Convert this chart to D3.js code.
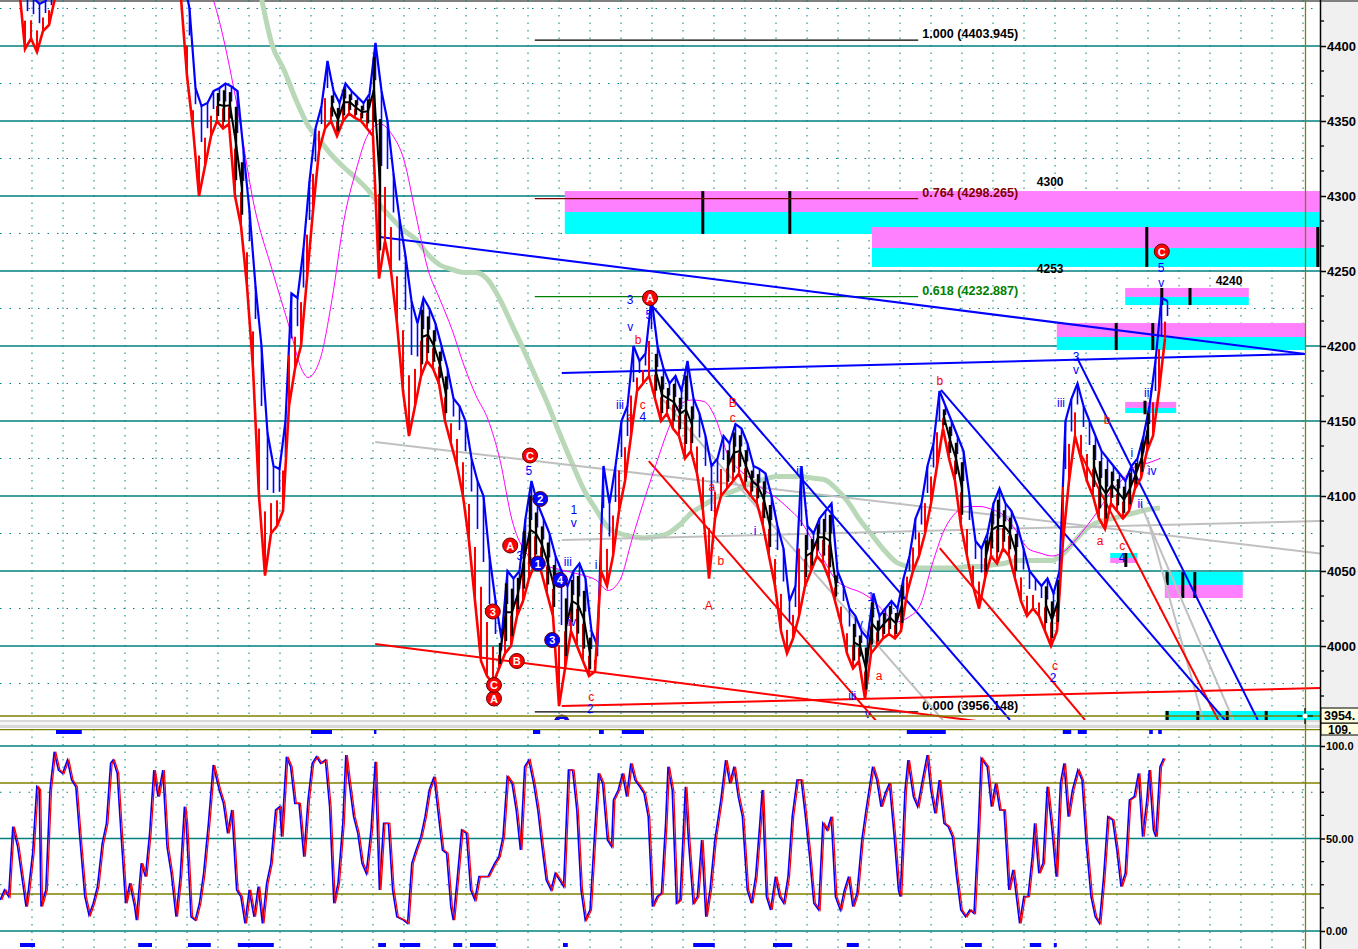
<!DOCTYPE html>
<html><head><meta charset="utf-8">
<script src="https://cdn.jsdelivr.net/npm/d3@7"></script>
<style>
html,body{margin:0;padding:0;background:#fff;overflow:hidden}
svg{display:block}
text{font-family:"Liberation Sans",Arial,sans-serif}
</style></head><body>
<svg width="1358" height="949"></svg>
<script>
// price bars (bar index = position in array), upper trace (blue) and lower trace (red)
const hi = [4450,4440,4432,4428,4430,4436,4450,
  4470,4475,4480,4478,4485,4490,4488,4495,4492,4490,4486,4490,4495,4500,4497,4492,4488,4480,4475,4468,
  4445,4425,4372,4360,4362,4370,4372,4375,4373,4370,4330,4290,4240,4200,4142,4120,4118,4150,4235,4232,
  4265,4310,4345,4360,4390,4370,4362,4375,4370,4366,4362,4368,4402,4370,4350,4315,4285,4260,4230,4215,
  4232,4225,4215,4200,4185,4165,4160,4150,4125,4110,4100,4060,4030,4005,4050,4045,4050,4085,4110,4095,
  4085,4075,4060,4050,4040,4050,4055,4045,4010,4000,4120,4095,4120,4150,4160,4200,4190,4195,4232,4200,
  4185,4175,4180,4170,4190,4165,4155,4140,4120,4125,4140,4135,4148,4145,4135,4120,4118,4115,4100,4080,
  4065,4030,4040,4120,4080,4075,4085,4090,4095,4050,4040,4025,4020,4010,4005,4035,4020,4025,4030,4025,
  4045,4060,4085,4095,4120,4135,4170,4160,4150,4140,4130,4100,4070,4065,4075,4095,4105,4095,4090,4080,
  4065,4050,4045,4040,4045,4035,4050,4150,4165,4175,4160,4150,4140,4130,4125,4120,4115,4110,4120,4125,
  4140,4160,4190,4232,4230];
const lo = [4440,4398,4405,4396,4410,4414,4432,
  4445,4450,4455,4452,4460,4465,4462,4470,4466,4464,4460,4464,4470,4474,4470,4466,4460,4455,4450,4446,
  4432,4380,4345,4300,4320,4340,4350,4345,4348,4300,4280,4240,4185,4100,4047,4075,4080,4090,4160,4185,
  4200,4245,4290,4330,4345,4350,4340,4350,4355,4352,4350,4345,4340,4245,4270,4250,4215,4170,4140,4160,
  4180,4190,4185,4175,4150,4135,4120,4100,4070,4030,3990,3980,3975,3985,3995,4000,4020,4030,4045,4055,
  4050,4035,4020,3960,3985,4010,4000,3990,3980,3983,4050,4040,4060,4090,4110,4140,4170,4175,4180,4165,
  4150,4155,4145,4140,4125,4130,4115,4090,4045,4085,4100,4105,4110,4115,4105,4100,4095,4080,4060,4040,
  4010,3995,4005,4020,4040,4050,4060,4055,4045,4030,4015,3995,3985,3990,3965,3995,4000,4005,4008,4005,
  4010,4035,4050,4060,4075,4095,4120,4145,4125,4110,4080,4060,4040,4025,4045,4060,4055,4065,4060,4045,
  4030,4020,4025,4020,4010,4000,4010,4070,4110,4140,4125,4110,4100,4085,4078,4095,4090,4085,4090,4105,
  4112,4130,4140,4170,4205];
// bar ranges drawn in black
const blackRuns = [[33,37],[52,60],[67,71],[80,89],[91,95],[106,112],[118,125],[131,136],[139,147],
  [154,157],[161,166],[171,173],[179,188]];

// moving averages [bar, price]
const fastMa = [[31,4445],[33,4420],[36,4364],[39,4294],[42,4251],[45,4211],[47,4184],[48,4179],[50,4191],
  [52,4231],[54,4284],[56,4317],[58,4341],[60,4348],[62,4341],[64,4324],[66,4287],[68,4251],[70,4231],
  [72,4211],[74,4187],[76,4167],[78,4151],[80,4124],[82,4084],[84,4064],[86,4057],[88,4053],[90,4051],
  [92,4049],[94,4047],[96,4044],[98,4037],[100,4044],[102,4071],[104,4097],[106,4121],[108,4144],
  [110,4161],[112,4164],[114,4163],[116,4151],[118,4127],[120,4117],[122,4111],[124,4104],[126,4099],
  [128,4092],[130,4084],[132,4071],[134,4057],[136,4044],[138,4039],[140,4036],[142,4031],[144,4023],
  [146,4016],[148,4019],[150,4027],[152,4054],[154,4077],[156,4089],[158,4093],[160,4093],[162,4091],
  [164,4087],[166,4077],[168,4065],[170,4062],[172,4060],[174,4063],[176,4071],[178,4081],[180,4092],
  [182,4104],[184,4112],[186,4120],[188,4122],[190,4125]];
const slowMa = [[40,4437],[42,4401],[44,4384],[46,4364],[48,4347],[50,4337],[52,4327],[54,4319],[56,4312],
  [58,4304],[60,4294],[62,4285],[64,4277],[66,4271],[68,4261],[70,4254],[72,4251],[74,4249],[76,4249],
  [78,4244],[80,4231],[82,4214],[84,4197],[86,4179],[88,4161],[90,4141],[92,4122],[94,4104],[96,4091],
  [98,4079],[100,4075],[102,4073],[104,4072],[106,4073],[108,4075],[110,4081],[112,4089],[114,4094],
  [116,4099],[118,4102],[120,4105],[122,4109],[124,4111],[126,4113],[128,4113],[130,4113],[132,4112],
  [134,4111],[136,4105],[138,4096],[140,4084],[142,4074],[144,4064],[146,4056],[148,4053],[150,4052],
  [152,4052],[154,4052],[156,4052],[158,4053],[160,4053],[162,4054],[164,4055],[166,4057],[168,4057],
  [170,4057],[172,4057],[174,4062],[176,4071],[178,4079],[180,4083],[182,4085],[184,4087],[186,4089],
  [188,4091],[190,4092]];

// oscillator [bar, value]
const osc = [[-3.3,16.8],[-2.6,22.2],[-1.9,18.6],[-1.2,56.4],[-0.4,45.6],[0.3,29.4],[1.0,13.2],[1.4,22.2],
  [2.1,42],[2.8,78],[3.2,76.2],[3.5,13.2],[4.3,22.2],[5.0,76.2],[5.7,96.9],[6.4,87],[7.1,85.2],[7.9,92.4],
  [8.6,81.6],[9.3,78],[10.0,49.2],[10.8,18.6],[11.5,8.6],[12.2,15],[12.9,24],[13.7,47.4],[14.4,58.2],
  [15.1,90.6],[15.5,92.4],[16.2,85.2],[16.9,49.2],[17.6,15],[18.3,25.8],[19.1,13.2],[19.4,5.9],[20.2,36.6],
  [20.9,29.4],[21.6,52.8],[22.3,87],[23.0,72.6],[23.8,87],[24.5,45.6],[25.2,31.2],[26.0,7.7],[26.7,29.4],
  [27.4,67.2],[27.7,58.2],[28.5,7.7],[29.2,5.9],[29.9,15],[30.6,31.2],[31.4,58.2],[32.2,89.7],[33.2,76.2],
  [33.9,69],[34.6,52.8],[35.3,65.4],[36.1,22.2],[36.8,18.6],[37.5,4.1],[38.2,22.2],[39.0,7.7],[39.7,24],
  [40.4,4.1],[41.1,25.8],[41.8,36.6],[42.6,65.4],[43.3,67.2],[43.6,51],[44.4,94.2],[45.1,88.8],[45.8,69],
  [46.5,69],[47.3,40.2],[48.0,70.8],[48.7,90.6],[49.4,94.2],[50.1,90.6],[50.9,92.4],[51.6,67.2],[52.3,15],
  [53.0,25.8],[53.8,58.2],[54.3,95.1],[54.8,81.6],[55.6,61.8],[56.3,52.8],[57.0,36.6],[57.7,31.2],
  [58.5,54.6],[59.2,91.5],[59.9,22.2],[60.6,58.2],[61.4,58.2],[62.1,22.2],[62.8,7.7],[63.9,5.9],[64.6,4.1],
  [65.3,36.6],[66.0,43.8],[66.8,51],[67.5,61.8],[68.2,76.2],[69.0,83.4],[69.7,63.6],[70.4,43.8],[71.1,42],
  [71.8,13.2],[72.2,5.9],[72.9,29.4],[73.6,54.6],[74.4,52.8],[75.1,22.2],[75.8,16.8],[76.5,29.4],
  [77.3,29.4],[78.0,29.4],[79.1,36.6],[79.8,40.2],[80.5,51],[81.2,83.4],[82.0,79.8],[82.7,65.4],
  [83.4,43.8],[84.1,88.8],[84.8,92.4],[85.6,79.8],[86.3,65.4],[87.0,45.6],[87.7,27.6],[88.5,22.2],
  [89.2,31.2],[89.9,27.6],[90.6,24],[91.4,87],[92.1,87],[92.8,65.4],[93.5,22.2],[94.2,5.9],[95.0,11.4],
  [95.7,49.2],[96.4,85.2],[97.1,79.8],[97.9,49.2],[98.6,45.6],[98.9,70.8],[99.7,76.2],[100.4,85.2],
  [101.1,72.6],[101.8,90.6],[102.5,81.6],[103.3,78],[104.0,74.4],[104.7,61.8],[105.4,13.2],[106.2,18.6],
  [106.9,20.4],[107.6,58.2],[108.0,88.8],[108.7,76.2],[109.4,15],[110.0,16.8],[110.9,78],[111.4,49.2],
  [112.2,15],[112.9,18.6],[113.6,49.2],[114.3,7.7],[115.0,22.2],[115.8,49.2],[116.8,70.8],[117.6,92.4],
  [118.3,79.8],[119.0,88.8],[119.7,72.6],[120.4,61.8],[121.2,22.2],[121.9,15],[122.6,29.4],[123.3,58.2],
  [123.7,76.2],[124.4,18.6],[125.1,11.4],[125.9,29.4],[126.6,18.6],[127.3,15],[128.0,29.4],[128.7,61.8],
  [129.5,81.6],[130.2,81.6],[130.9,61.8],[131.6,40.2],[132.3,15],[133.1,11.4],[133.8,58.2],[134.5,54.6],
  [135.2,61.8],[135.9,18.6],[136.7,11.4],[137.4,22.2],[138.1,29.4],[138.8,13.2],[139.5,20.4],[140.3,49.2],
  [141.0,65.4],[142.1,88.8],[142.8,81.6],[143.5,67.2],[144.2,74.4],[144.9,79.8],[145.7,51],[146.4,22.2],
  [146.7,18.6],[147.5,76.2],[148.0,92.4],[148.9,72.6],[149.6,67.2],[150.4,81.6],[151.2,95.1],[151.8,76.2],
  [152.5,63.6],[153.2,81.6],[154.0,58.2],[154.7,56.4],[155.4,51],[156.1,29.4],[156.8,11.4],[157.6,7.7],
  [158.3,11.4],[159.0,9.5],[159.7,54.6],[160.2,93.3],[161.2,88.8],[161.9,67.2],[162.6,79.8],[163.3,65.4],
  [164.0,65.4],[164.8,22.2],[165.5,33],[166.2,15],[166.6,4.1],[167.3,18.6],[168.0,18.6],[168.7,40.2],
  [169.1,58.2],[169.8,31.2],[170.5,36.6],[171.2,78],[172.0,54.6],[172.7,29.4],[173.4,79.8],[174.0,90.6],
  [174.7,61.8],[175.4,76.2],[176.3,87],[177.0,81.6],[177.7,47.4],[178.5,18.6],[179.2,7.7],[179.9,4.1],
  [180.6,29.4],[181.3,61.8],[182.1,60],[182.8,43.8],[183.5,24],[184.2,31.2],[184.9,70.8],[185.7,72.6],
  [186.4,85.2],[187.1,51],[187.8,70.8],[188.2,87],[188.9,54.6],[189.3,51],[190.0,88.8],[190.6,93.3]];

// event markers [fromBar, toBar]
const topMarks = [[6,10.3],[48.5,52],[59,59.4],[85.5,86.7],[96.5,97.3],[100.3,104],[147.8,154.3],
  [173.8,175.2],[176.3,177.8],[188.2,188.8],[189.7,190.3]];
const bottomMarks = [[0,2.5],[19.7,22],[28,31.8],[36.3,42.3],[59.7,61],[63.3,66.7],[72.2,73.7],[75,79.3],
  [90.5,91.3],[112.2,115.8],[125.5,128.7],[137.8,139.8],[157.5,160.3],[168.3,170.2],[172.3,172.8]];

// trend lines [bar0, price0, bar1, price1]
const blueLines = [[60,4272.7,214.2,4194.7],[90.3,4182,214.2,4194.7],[105.5,4226,165,3950.7],
  [153.5,4170.7,200.8,3950.7],[176.2,4192,206.3,3950.7]];
const redLines = [[59.2,4001.3,160.8,3949.3],[90.3,3960,216.7,3972],[104.8,4123.3,143.3,3947.3],
  [153.3,4065.3,177.5,3950.7],[176.7,4128.7,199.7,3950.7]];
const grayLines = [[59.2,4136,223,4058.7],[90.3,4070.7,223,4084],[107.2,4164,153.8,3950.7],
  [186.7,4095.3,202.2,3950.7],[188,4084,197.2,3950.7]];

// fibonacci levels
const fibRatios = ["1.000","0.764","0.618","0.000"];
const fibPrices = [4403.945, 4298.265, 4232.887, 3956.148];
const fibFrom = 85.8, fibTo = 149.7;

// target zones [bar0, bar1, top, middle, bottom, pinkOnTop]
const zones = [[90.8,216.7,4303.3,4289.3,4274.7,1],[142,216.7,4279.3,4265.3,4252.7,1],
  [184.2,204.8,4238.7,4232.7,4227.3,1],[172.8,214.3,4215.3,4206,4197.3,1],
  [184.2,192.7,4162.7,4158.7,4155.3,1],[181.7,186.2,4062,4058.7,4055.3,0],
  [190.8,203.8,4049.3,4040.7,4032,0],[190.8,216.7,3956.7,3950,3950,0]];
// black ticks inside zones [bar, top, bottom]
const zoneTicks = [[113.8,4303.3,4274.7],[128.3,4303.3,4274.7],[187.8,4279.3,4252.7],[216.3,4279.3,4252.7],
  [190.3,4238.7,4227.3],[195,4238.7,4227.3],[182.7,4215.3,4197.3],[188.8,4215.3,4197.3],
  [187.5,4163.5,4154.5],[184.3,4062,4052.7],[191.2,4049.3,4040.7],[193.8,4049.3,4032],[195.8,4049.3,4032],
  [191.2,3956.7,3950],[196.3,3956.7,3950],[201.2,3956.7,3950],[207.7,3956.7,3950]];
const zoneTexts = [[171.7,4307,"4300"],[171.7,4249,"4253"],[201.5,4241,"4240"]];

// wave labels [bar, price, text]
const redCircles = [[79,3965,"A"],[79,3974,"C"],[105,4232,"A"],[85,4127,"C"],[81.7,4067,"A"],
  [78.8,4023,"3"],[82.8,3990,"B"],[190.3,4263,"C"]];
const blueCircles = [[86.7,4098,"2"],[86.3,4055,"1"],[90,4044,"4"],[88.7,4004,"3"],[90.3,3949,"5"]];
const blueWaves = [[101.7,4231,"3"],[104.8,4221,"5"],[101.7,4213,"v"],[100,4161,"iii"],[84.8,4117,"5"],
  [83.3,4060,"3"],[92.3,4091,"1"],[92.3,4082,"v"],[91.3,4056,"iii"],[96,4054,"i"],[92,4016,"iv"],
  [95,3958,"2"],[129.8,4117,"ii"],[122.5,4077,"i"],[141.8,4033,"1"],[140,4015,"v"],[138.7,3967,"iii"],
  [141.3,3955,"v"],[176,4193,"3"],[176,4184,"v"],[173.5,4162,"iii"],[190.2,4252,"5"],[190.2,4242,"v"],
  [188,4169,"iii"],[185.3,4129,"i"],[188.7,4117,"iv"],[186.7,4095,"ii"],[172.2,3979,"2"],
  [183.7,4059,"4"],[103.8,4153,"4"]];
const redWaves = [[103,4204,"b"],[101.8,4153,"a"],[103.8,4161,"c"],[118.8,4162,"B"],[118.8,4152,"c"],
  [115.3,4106,"a"],[116.8,4057,"b"],[114.8,4027,"A"],[95.2,3966,"c"],[143.2,3980,"a"],[153.3,4177,"b"],
  [180,4070,"a"],[183.7,4067,"c"],[181.2,4151,"b"],[172.5,3987,"c"]];

const priceTicks = d3.range(4000, 4401, 50);
const oscTicks = [0, 50, 100];
const lastPrice = "3954.";
const lastOsc = "109.";

// ---------------------------------------------------------------
const svg = d3.select("svg");
const x = d3.scaleLinear().domain([0, 216.667]).range([20, 1320]);
const y = d3.scaleLinear().domain([4000, 4400]).range([646, 46]);
const yo = d3.scaleLinear().domain([0, 100]).range([931, 746]);
const teal = "#008080", olive = "#808000";

const defs = svg.append("defs");
defs.append("clipPath").attr("id", "cMain").append("rect").attr("x", 0).attr("y", 0).attr("width", 1320).attr("height", 720);
defs.append("clipPath").attr("id", "cOsc").append("rect").attr("x", 0).attr("y", 729).attr("width", 1320).attr("height", 220);

// right axis background
svg.append("rect").attr("x", 1321).attr("y", 0).attr("width", 37).attr("height", 949).attr("fill", "#f0f0f0");
svg.append("rect").attr("x", 0).attr("y", 0).attr("width", 1358).attr("height", 2).attr("fill", "#808080");

const main = svg.append("g").attr("clip-path", "url(#cMain)");
const lower = svg.append("g").attr("clip-path", "url(#cOsc)");

// grid
const gridBars = d3.range(2, 217, 5.1667);
[main, lower].forEach((g, k) => {
  g.selectAll(null).data(gridBars).join("line")
    .attr("x1", d => x(d)).attr("x2", d => x(d))
    .attr("y1", k ? 729 : 0).attr("y2", k ? 949 : 720)
    .attr("stroke", teal).attr("stroke-dasharray", "1.5,6");
});
main.selectAll(null).data(d3.range(3975, 4430, 50)).join("line")
  .attr("x1", 0).attr("x2", 1320).attr("y1", d => y(d)).attr("y2", d => y(d))
  .attr("stroke", teal).attr("stroke-dasharray", "1.5,8");
main.selectAll(null).data(priceTicks).join("line")
  .attr("x1", 0).attr("x2", 1320).attr("y1", d => y(d)).attr("y2", d => y(d))
  .attr("stroke", teal).attr("stroke-width", 1.3);
lower.selectAll(null).data([25, 75]).join("line")
  .attr("x1", 0).attr("x2", 1320).attr("y1", d => yo(d)).attr("y2", d => yo(d))
  .attr("stroke", teal).attr("stroke-dasharray", "1.5,8");
lower.selectAll(null).data([0, 50, 100]).join("line")
  .attr("x1", 0).attr("x2", 1320).attr("y1", d => yo(d)).attr("y2", d => yo(d))
  .attr("stroke", teal).attr("stroke-width", 1.3);
lower.selectAll(null).data([20, 80]).join("line")
  .attr("x1", 0).attr("x2", 1320).attr("y1", d => yo(d)).attr("y2", d => yo(d))
  .attr("stroke", olive).attr("stroke-width", 1.3);

// zones
zones.forEach(z => {
  const [b0, b1, top, mid, bot, pinkTop] = z;
  main.append("rect").attr("x", x(b0)).attr("width", x(b1) - x(b0))
    .attr("y", y(top)).attr("height", y(mid) - y(top)).attr("fill", pinkTop ? "#ff80ff" : "#00ffff");
  if (bot < mid) main.append("rect").attr("x", x(b0)).attr("width", x(b1) - x(b0))
    .attr("y", y(mid)).attr("height", y(bot) - y(mid)).attr("fill", pinkTop ? "#00ffff" : "#ff80ff");
});
zoneTicks.forEach(t => {
  main.append("line").attr("x1", x(t[0])).attr("x2", x(t[0])).attr("y1", y(t[1])).attr("y2", y(t[2]))
    .attr("stroke", "#000").attr("stroke-width", 3);
});

// fib lines
const fibColors = ["#000000", "#800000", "#008000", "#000000"];
fibPrices.forEach((p, k) => {
  main.append("line").attr("x1", x(fibFrom)).attr("x2", x(fibTo)).attr("y1", y(p)).attr("y2", y(p))
    .attr("stroke", fibColors[k]).attr("stroke-width", 1.2);
  main.append("text").attr("x", x(fibTo) + 4).attr("y", y(p) - 2)
    .attr("font-size", 12).attr("font-weight", "bold").attr("fill", fibColors[k])
    .attr("textLength", 96).attr("lengthAdjust", "spacingAndGlyphs")
    .text(`${fibRatios[k]} (${p.toFixed(3)})`);
});

// moving averages
const maLine = d3.line().x(d => x(d[0])).y(d => y(d[1])).curve(d3.curveMonotoneX);
main.append("path").datum(slowMa).attr("d", maLine).attr("fill", "none")
  .attr("stroke", "#b8d8b8").attr("stroke-width", 5);

// trend lines
const drawLines = (arr, color, w) => arr.forEach(l => {
  main.append("line").attr("x1", x(l[0])).attr("y1", y(l[1])).attr("x2", x(l[2])).attr("y2", y(l[3]))
    .attr("stroke", color).attr("stroke-width", w);
});
drawLines(grayLines, "#c0c0c0", 2);
drawLines(redLines, "#ff0000", 2);
drawLines(blueLines, "#0000ff", 2);

main.append("path").datum(fastMa).attr("d", maLine).attr("fill", "none")
  .attr("stroke", "#ff00ff").attr("stroke-width", 1);

// price traces
const bars = hi.map((h, i) => ({ i, h, l: lo[i] }));
// bar bodies: blue hangs from the high, red rises from the low
main.selectAll(null).data(bars).join("line")
  .attr("x1", d => x(d.i) + 1.5).attr("x2", d => x(d.i) + 1.5)
  .attr("y1", d => y(d.h)).attr("y2", d => y(d.h - (d.h - d.l) * 0.4))
  .attr("stroke", "#0000ff").attr("stroke-width", 1.6);
main.append("path").datum(bars)
  .attr("d", d3.line().x(d => x(d.i) + 1.5).y(d => y(d.h)))
  .attr("fill", "none").attr("stroke", "#0000ff").attr("stroke-width", 2.2);
main.selectAll(null).data(bars).join("line")
  .attr("x1", d => x(d.i) - 1).attr("x2", d => x(d.i) - 1)
  .attr("y1", d => y(d.l)).attr("y2", d => y(d.l + (d.h - d.l) * 0.45))
  .attr("stroke", "#ff0000").attr("stroke-width", 2);
main.append("path").datum(bars)
  .attr("d", d3.line().x(d => x(d.i) - 1).y(d => y(d.l)))
  .attr("fill", "none").attr("stroke", "#ff0000").attr("stroke-width", 2.6);
blackRuns.forEach(r => {
  const seg = bars.slice(r[0], r[1] + 1);
  main.append("path").datum(seg)
    .attr("d", d3.line().x(d => x(d.i)).y(d => y((d.h + d.l) / 2)))
    .attr("fill", "none").attr("stroke", "#000").attr("stroke-width", 2);
  main.selectAll(null).data(seg).join("line")
    .attr("x1", d => x(d.i)).attr("x2", d => x(d.i))
    .attr("y1", d => y(d.h - (d.h - d.l) * 0.15)).attr("y2", d => y(d.l + (d.h - d.l) * 0.15))
    .attr("stroke", "#000").attr("stroke-width", 2.4);
});

// wave labels
const waveText = (arr, color) => arr.forEach(w => {
  main.append("text").attr("x", x(w[0])).attr("y", y(w[1]) + 4).attr("text-anchor", "middle")
    .attr("font-family", "DejaVu Sans").attr("font-size", 12).attr("fill", color).text(w[2]);
});
waveText(blueWaves, "#0000ff");
waveText(redWaves, "#ff0000");
const circles = (arr, fill) => arr.forEach(c => {
  main.append("circle").attr("cx", x(c[0])).attr("cy", y(c[1])).attr("r", 7.5)
    .attr("fill", fill).attr("stroke", "#600000").attr("stroke-width", 1);
  main.append("text").attr("x", x(c[0])).attr("y", y(c[1]) + 4).attr("text-anchor", "middle")
    .attr("font-size", 11).attr("font-weight", "bold").attr("fill", "#fff").text(c[2]);
});
circles(redCircles, "#ff0000");
circles(blueCircles, "#0000ff");

zoneTexts.forEach(t => {
  main.append("text").attr("x", x(t[0])).attr("y", y(t[1])).attr("text-anchor", "middle")
    .attr("font-size", 12).attr("font-weight", "bold").attr("fill", "#000").text(t[2]);
});

// current price line
main.append("line").attr("x1", 0).attr("x2", 1320).attr("y1", 716).attr("y2", 716)
  .attr("stroke", olive).attr("stroke-width", 1.3);

// oscillator
const oscLine = d3.line().x(d => x(d[0])).y(d => yo(d[1]));
lower.append("path").datum(osc).attr("d", oscLine).attr("fill", "none")
  .attr("stroke", "#0000ff").attr("stroke-width", 1.6);
lower.append("path").datum(osc).attr("d", oscLine).attr("fill", "none")
  .attr("transform", "translate(1.5,0)").attr("stroke", "#ff0000").attr("stroke-width", 1.3);
lower.append("line").attr("x1", 0).attr("x2", 1320).attr("y1", 729.5).attr("y2", 729.5)
  .attr("stroke", olive).attr("stroke-width", 1.3);
lower.selectAll(null).data(topMarks).join("rect")
  .attr("x", d => x(d[0])).attr("width", d => Math.max(2, x(d[1]) - x(d[0])))
  .attr("y", 730).attr("height", 4).attr("fill", "#0000ff");
lower.selectAll(null).data(bottomMarks).join("rect")
  .attr("x", d => x(d[0])).attr("width", d => Math.max(2, x(d[1]) - x(d[0])))
  .attr("y", 943).attr("height", 4).attr("fill", "#0000ff");

// panel divider
svg.append("rect").attr("x", 0).attr("y", 720).attr("width", 1321).attr("height", 8).attr("fill", "#d8d8d8");
svg.append("rect").attr("x", 0).attr("y", 722).attr("width", 1321).attr("height", 3).attr("fill", "#f4f4f4");

// cursor line
svg.append("line").attr("x1", 1305.5).attr("x2", 1305.5).attr("y1", 0).attr("y2", 949)
  .attr("stroke", olive).attr("stroke-width", 1.3);
svg.append("path").attr("d", "M1297,716H1313M1305,708V724").attr("stroke", "#000").attr("stroke-width", 1.2);
svg.append("circle").attr("cx", 1305).attr("cy", 716).attr("r", 2.5).attr("fill", "#fff");

// axes
const axisStyle = (size, dx) => g => {
  g.select(".domain").remove();
  g.selectAll(".tick line").attr("stroke", "#000").attr("stroke-width", 1.5);
  g.selectAll(".tick text").attr("font-family", "Liberation Sans").attr("font-size", size)
    .attr("font-weight", "bold").attr("fill", "#000").attr("x", dx);
};
svg.append("g").attr("transform", "translate(1321,0)")
  .call(d3.axisRight(y).tickValues(priceTicks).tickSize(5).tickFormat(d3.format("d"))).call(axisStyle(13, 6));
svg.append("g").attr("transform", "translate(1321,0)")
  .call(d3.axisRight(yo).tickValues(oscTicks).tickSize(4)
    .tickFormat(d => d === 100 ? "100.0" : d === 50 ? "50.00" : "0.00")).call(axisStyle(11, 5));
svg.selectAll(null).data(d3.range(3950, 4440, 50 / 3).filter(v => Math.abs(v % 50) > 1 && Math.abs(v % 50) < 49))
  .join("line").attr("x1", 1321).attr("x2", 1324).attr("y1", d => y(d)).attr("y2", d => y(d))
  .attr("stroke", "#000").attr("stroke-width", 1.3);
svg.selectAll(null).data([12.5, 25, 37.5, 62.5, 75, 87.5])
  .join("line").attr("x1", 1321).attr("x2", 1324).attr("y1", d => yo(d)).attr("y2", d => yo(d))
  .attr("stroke", "#000").attr("stroke-width", 1.3);
svg.append("line").attr("x1", 1320.5).attr("x2", 1320.5).attr("y1", 0).attr("y2", 949)
  .attr("stroke", "#000").attr("stroke-width", 1.5);

// last value tags
svg.append("rect").attr("x", 1321).attr("y", 723).attr("width", 40).attr("height", 12)
  .attr("fill", "#ffffe1").attr("stroke", "#000");
svg.append("text").attr("x", 1328).attr("y", 734).attr("font-size", 12).attr("font-weight", "bold").text(lastOsc);
svg.append("rect").attr("x", 1321).attr("y", 708).attr("width", 40).attr("height", 15)
  .attr("fill", "#ffffe1").attr("stroke", "#000");
svg.append("text").attr("x", 1324).attr("y", 720).attr("font-size", 12.5).attr("font-weight", "bold").text(lastPrice);
</script>
</body></html>
